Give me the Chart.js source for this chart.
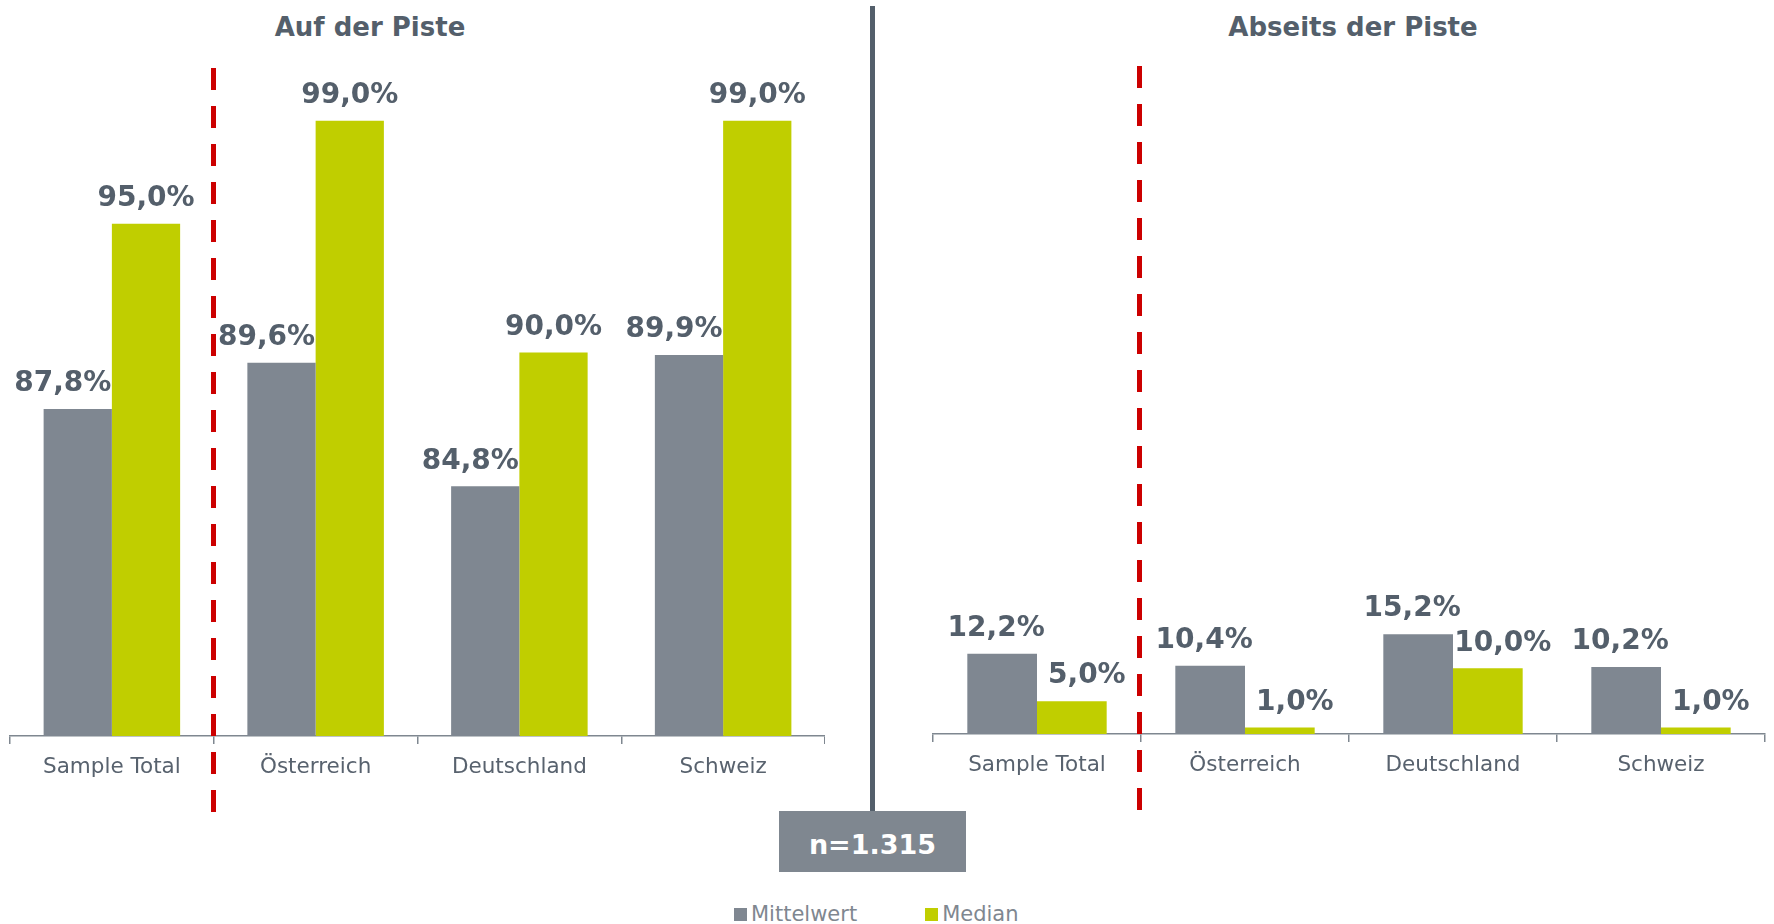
<!DOCTYPE html>
<html>
<head>
<meta charset="utf-8">
<script src="https://cdn.jsdelivr.net/npm/chart.js@4"></script>
<style>
  body { margin: 0; background: #fff; font-family: 'DejaVu Sans', Verdana, sans-serif; }
  #page { position: relative; width: 1774px; height: 924px; overflow: hidden; }
  canvas { position: absolute; }
  .title { position: absolute; top: 12px; font-weight: bold; font-size: 26px; color: #545f6b; transform: translateX(-50%); white-space: nowrap; }
  .dash { position: absolute; width: 5px; background: repeating-linear-gradient(to bottom, #cc0000 0, #cc0000 22px, transparent 22px, transparent 38px); }
  #divider { position: absolute; left: 870px; top: 6px; width: 5px; height: 805px; background: #545f6b; }
  #nbox { position: absolute; left: 779px; top: 811px; width: 187px; height: 61px; background: #7f8790; color: #fff; font-weight: bold; font-size: 27px; line-height: 67px; text-align: center; }
  #legend { position: absolute; left: 734px; top: 902px; display: flex; gap: 68px; font-size: 21px; color: #7f8790; }
  #legend span.box { display: inline-block; width: 13px; height: 13px; margin-right: 4px; vertical-align: 0px; }
</style>
</head>
<body>
<div id="page">
  <div class="title" style="left:370px">Auf der Piste</div>
  <div class="title" style="left:1353px">Abseits der Piste</div>
  <canvas id="chartPiste" width="825" height="741" style="left:0;top:55px"></canvas>
  <canvas id="chartAbseits" width="851" height="757" style="left:923px;top:37px"></canvas>
  <div class="dash" style="left:211px;top:68px;height:744px"></div>
  <div class="dash" style="left:1137px;top:66px;height:744px"></div>
  <div id="divider"></div>
  <div id="nbox">n=1.315</div>
  <div id="legend"></div>
</div>
<script>
// data
const categories = ['Sample Total', 'Österreich', 'Deutschland', 'Schweiz'];
const seriesNames = ['Mittelwert', 'Median'];
const seriesColors = ['#7f8791', '#c0ce00'];
const pisteMittelwert = [87.8, 89.6, 84.8, 89.9];
const pisteMedian = [95.0, 99.0, 90.0, 99.0];
const abseitsMittelwert = [12.2, 10.4, 15.2, 10.2];
const abseitsMedian = [5.0, 1.0, 10.0, 1.0];

const fmt = v => v.toFixed(1).replace('.', ',') + '%';

// value labels above the bars
const valueLabels = {
    id: 'valueLabels',
    afterDatasetsDraw(chart, args, opts) {
        const ctx = chart.ctx;
        ctx.save();
        ctx.font = 'bold 28px "DejaVu Sans"';
        ctx.fillStyle = '#545f6b';
        ctx.textAlign = 'center';
        ctx.textBaseline = 'middle';
        chart.data.datasets.forEach((ds, i) => {
            const meta = chart.getDatasetMeta(i);
            const dx = opts.shift[i];
            meta.data.forEach((bar, j) => {
                ctx.fillText(fmt(ds.data[j]), bar.x + dx, bar.y - 25);
            });
        });
        ctx.restore();
    }
};

function makeConfig(mittel, median, yMin, shift, padRight) {
    return {
        type: 'bar',
        data: {
            labels: categories,
            datasets: [
                { label: seriesNames[0], data: mittel, backgroundColor: seriesColors[0], borderWidth: 0 },
                { label: seriesNames[1], data: median, backgroundColor: seriesColors[1], borderWidth: 0 }
            ]
        },
        options: {
            responsive: false,
            animation: false,
            categoryPercentage: 0.67,
            barPercentage: 1.0,
            layout: { padding: { top: 40, left: 10, right: padRight, bottom: 0 } },
            plugins: {
                legend: false,
                tooltip: { enabled: false },
                valueLabels: { shift: shift }
            },
            scales: {
                x: {
                    border: { color: '#7f8790', width: 1.5 },
                    grid: { drawOnChartArea: false, drawTicks: true, tickLength: 8, color: '#7f8790', lineWidth: 1.5 },
                    ticks: { color: '#58626e', font: { family: 'DejaVu Sans', size: 21.5 }, padding: 11 },
                    afterFit(scale) { scale.height = 60; }
                },
                y: {
                    display: false,
                    min: yMin,
                    max: 100
                }
            }
        },
        plugins: [valueLabels]
    };
}

const chartPiste = new Chart(
    document.getElementById('chartPiste'),
    makeConfig(pisteMittelwert, pisteMedian, 75.1, [-15, 0], 0)
);
const chartAbseits = new Chart(
    document.getElementById('chartAbseits'),
    makeConfig(abseitsMittelwert, abseitsMedian, 0, [-6, 15], 9)
);

// shared legend
const legend = document.getElementById('legend');
seriesNames.forEach((name, i) => {
    const item = document.createElement('div');
    item.innerHTML = '<span class="box" style="background:' + seriesColors[i] + '"></span>' + name;
    legend.appendChild(item);
});
</script>
</body>
</html>
